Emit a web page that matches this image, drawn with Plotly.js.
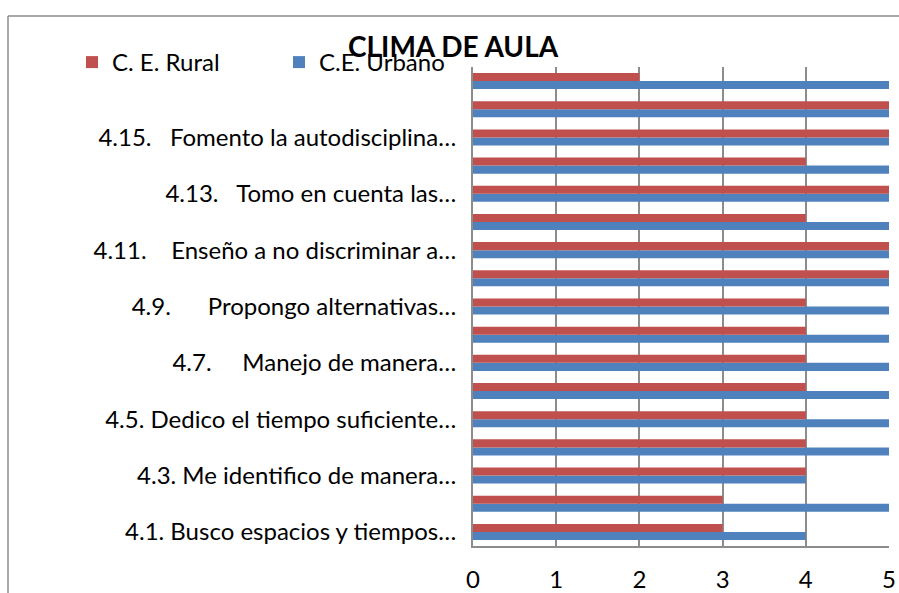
<!DOCTYPE html>
<html>
<head>
<meta charset="utf-8">
<script src="https://cdn.plot.ly/plotly-3.0.1.min.js"></script>
<style>html,body{margin:0;padding:0;background:#fff;overflow:hidden;}#chart{width:899px;height:593px;}</style>
</head>
<body>
<div id="chart"></div>
<script>
var categories = ['4.1.','4.2.','4.3.','4.4.','4.5.','4.6.','4.7.','4.8.','4.9.','4.10.','4.11.','4.12.','4.13.','4.14.','4.15.','4.16.','4.17.'];
var rural  = [3,3,4,4,4,4,4,4,4,5,5,4,5,4,5,5,2];
var urbano = [4,5,4,5,5,5,5,5,5,5,5,5,5,5,5,5,5];
var labelCats = ['4.1.','4.3.','4.5.','4.7.','4.9.','4.11.','4.13.','4.15.'];
var labelText = [
  '4.1.\u00A0Busco espacios y tiempos…',
  '4.3.\u00A0Me identifico de manera…',
  '4.5.\u00A0Dedico el tiempo suficiente…',
  '4.7.\u00A0\u00A0\u00A0\u00A0\u00A0Manejo de manera…',
  '4.9.\u00A0\u00A0\u00A0\u00A0\u00A0\u00A0Propongo alternativas…',
  '4.11.\u00A0\u00A0\u00A0\u00A0Enseño a no discriminar a…',
  '4.13.\u00A0\u00A0\u00A0Tomo en cuenta las…',
  '4.15.\u00A0\u00A0\u00A0Fomento la autodisciplina…'
];
var seriesNames = ['C. E. Rural','C.E. Urbano'];
var chartTitle = 'CLIMA DE AULA';

var FONT = 'Lato, "Open Sans", sans-serif';
var grid = '#8c8c8c';

var traces = [
  {type:'bar', orientation:'h', name:seriesNames[1], y:categories, x:urbano, marker:{color:'#4F81BD'}},
  {type:'bar', orientation:'h', name:seriesNames[0], y:categories, x:rural, marker:{color:'#C0504D'}}
];

var pw = 416, ph = 479, ml = 473, mt = 67;
function px(x){return (x-ml)/pw;}
function py(y){return (mt+ph-y)/ph;}

var layout = {
  width:899, height:593,
  margin:{l:473, r:10, t:67, b:47},
  paper_bgcolor:'#fff', plot_bgcolor:'#fff',
  font:{family:FONT, color:'#000', size:24},
  title:{text:'<b>'+chartTitle+'</b>', font:{family:FONT, size:28, color:'#000'}, x:0.504, xref:'container', xanchor:'center', y:1-47/593, yref:'container', yanchor:'middle'},
  barmode:'group', bargap:0.43, bargroupgap:0,
  showlegend:true,
  legend:{orientation:'h', traceorder:'reversed', x:px(72), xanchor:'left', y:py(40), yanchor:'top', font:{family:FONT, size:24, color:'#000'}, entrywidth:162, entrywidthmode:'pixels', bgcolor:'rgba(0,0,0,0)'},
  xaxis:{range:[0,5], dtick:1, tick0:0, showgrid:true, gridcolor:grid, gridwidth:2, zeroline:false, showline:true, linecolor:grid, linewidth:2, ticks:'', ticklabelstandoff:11, tickfont:{family:FONT, size:24, color:'#000'}, fixedrange:true},
  yaxis:{type:'category', categoryorder:'array', categoryarray:categories, tickvals:labelCats, ticktext:labelText, showgrid:false, zeroline:false, showline:true, linecolor:grid, linewidth:2, ticks:'', ticklabelstandoff:10, tickfont:{family:FONT, size:24, color:'#000'}, range:[-0.5,16.5], fixedrange:true},
  shapes:[
    {type:'line', xref:'paper', yref:'paper', x0:px(8), x1:px(899), y0:py(16), y1:py(16), line:{color:'#8c8c8c', width:1.5}, layer:'below'},
    {type:'line', xref:'paper', yref:'paper', x0:px(8), x1:px(8), y0:py(16), y1:py(593), line:{color:'#8c8c8c', width:1.5}, layer:'below'}
  ]
};

Plotly.newPlot('chart', traces, layout, {displayModeBar:false, staticPlot:true});
</script>
</body>
</html>
